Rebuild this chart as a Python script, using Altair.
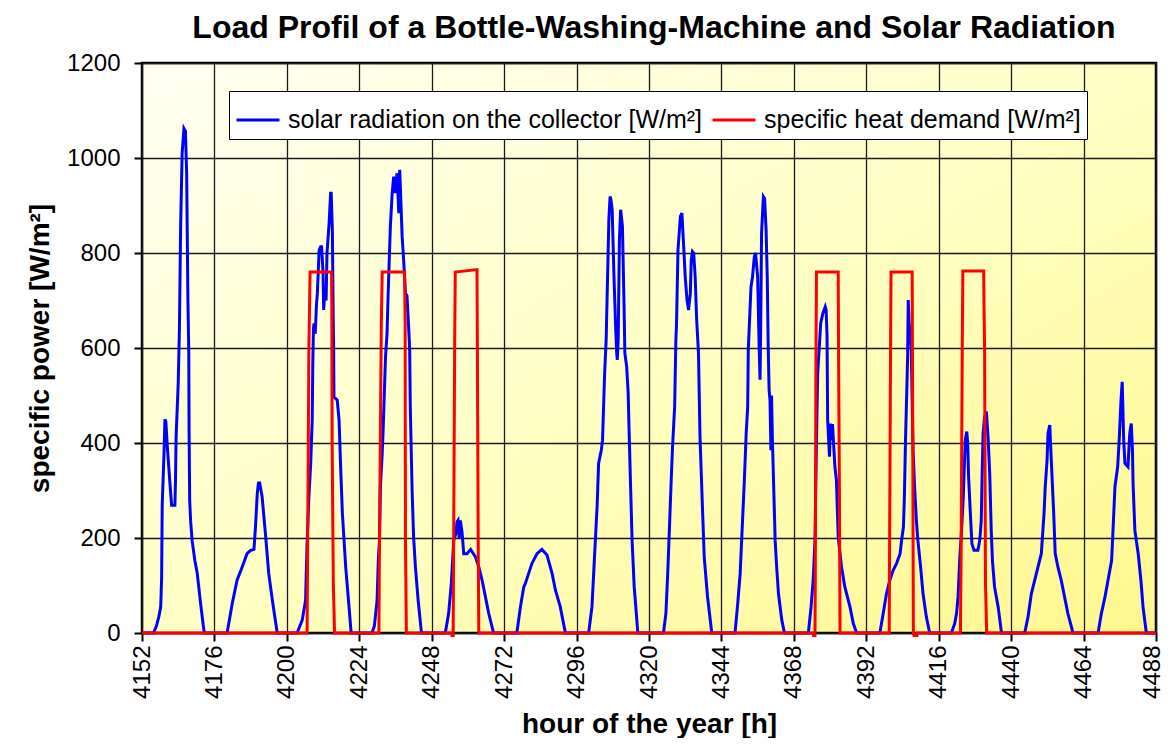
import altair as alt
import pandas as pd

# ---------------- data ----------------
solar_name = "solar radiation on the collector [W/m²]"
heat_name = "specific heat demand [W/m²]"

x_ticks = [4152, 4176, 4200, 4224, 4248, 4272, 4296, 4320, 4344, 4368, 4392, 4416, 4440, 4464, 4488]
y_ticks = [0, 200, 400, 600, 800, 1000, 1200]

solar_hours = [
    4152, 4155.8, 4156.8, 4157.6, 4158.2, 4158.5, 4158.7, 4159.3, 4159.6, 4159.9, 4160.4, 4161.1, 4161.8,
    4162.9, 4163.1, 4163.3, 4164.0, 4164.4, 4164.8, 4165.3, 4165.9, 4166.4, 4166.8, 4167.2, 4167.5, 4167.6,
    4167.8, 4168.1, 4168.6, 4169.5, 4170.3, 4170.8, 4171.4, 4172.5, 4172.8,
    4180.2, 4181.9, 4183.5, 4185.2, 4186.8, 4188.0, 4189.1, 4189.6, 4190.2, 4190.6, 4191.0, 4191.8, 4192.9,
    4194.0, 4195.2, 4196.8,
    4203.4, 4205.1, 4206.2, 4206.7, 4207.3, 4207.9, 4208.4, 4208.6, 4208.8, 4209.0, 4209.4, 4209.8, 4210.1,
    4210.7, 4211.2, 4211.5, 4212.0, 4212.2, 4212.6, 4213.0, 4213.3, 4214.0, 4214.5, 4214.7, 4215.1, 4215.3,
    4215.5, 4215.6, 4216.7, 4217.3, 4217.9, 4218.4, 4219.5, 4220.6, 4221.3,
    4228.2, 4229.0, 4229.9, 4230.3, 4230.7, 4231.0, 4231.6, 4231.9, 4232.3, 4232.7, 4233.2, 4233.5, 4234.0,
    4234.3, 4234.9, 4235.4, 4235.9, 4236.5, 4237.1, 4237.4, 4237.8, 4238.2, 4238.7, 4239.3, 4239.8, 4240.4,
    4240.7, 4240.9, 4241.5, 4242.0, 4242.6, 4243.5, 4244.6,
    4252.5, 4253.6, 4254.5, 4255.3, 4256.0, 4256.4, 4256.7, 4257.1, 4257.5, 4258.1, 4258.6, 4259.7, 4260.9,
    4262.5, 4263.6, 4264.7, 4265.8, 4266.9, 4268.5,
    4276.2, 4277.4, 4278.5, 4279.0, 4280.1, 4281.2, 4282.9, 4284.5, 4286.2, 4287.9, 4289.0, 4290.6, 4292.3,
    4300.0, 4301.1, 4302.0, 4302.8, 4303.3, 4304.2, 4304.6, 4305.3, 4305.8, 4306.1, 4306.7, 4307.1, 4307.4,
    4307.8, 4308.4, 4308.9, 4309.3, 4309.5, 4309.8, 4310.2, 4310.6, 4311.2, 4311.7, 4312.0, 4312.6, 4313.1,
    4313.4, 4313.9, 4314.4, 4315.1, 4315.8, 4316.3,
    4324.8, 4325.6, 4326.2, 4326.7, 4327.4, 4327.8, 4328.5, 4328.9, 4329.1, 4329.6, 4330.4, 4330.9, 4331.5,
    4332.0, 4332.6, 4333.1, 4333.7, 4334.0, 4334.4, 4334.8, 4335.3, 4335.8, 4336.4, 4336.9, 4337.7, 4338.3,
    4339.4, 4340.8,
    4348.5, 4349.4, 4350.2, 4350.7, 4351.6, 4352.2, 4352.7, 4352.9, 4353.8, 4354.3, 4354.9, 4355.3, 4356.0,
    4356.5, 4356.8, 4357.0, 4357.3, 4357.9, 4358.3, 4358.8, 4359.2, 4359.5, 4359.8, 4360.1, 4360.4, 4360.6,
    4360.9, 4361.2, 4361.8, 4362.3, 4362.9, 4364.0, 4364.9,
    4372.8, 4373.7, 4374.4, 4375.0, 4375.5, 4375.9, 4376.3, 4376.9, 4377.6, 4378.4, 4378.7, 4379.0, 4379.2,
    4379.8, 4380.1, 4380.5, 4380.8, 4381.6, 4382.1, 4382.7, 4383.8, 4384.9, 4386.6, 4387.7, 4388.8,
    4396.5, 4397.6, 4398.7, 4399.8, 4400.9, 4402.0, 4403.2, 4403.7, 4404.3, 4404.6, 4405.0, 4405.4, 4405.7,
    4405.9, 4406.2, 4406.6, 4406.9, 4407.5, 4408.0, 4408.6, 4409.1, 4410.0, 4410.8, 4411.9, 4413.0,
    4420.2, 4421.3, 4421.9, 4422.4, 4423.0, 4423.5, 4424.1, 4424.4, 4424.8, 4425.3, 4425.6, 4425.9, 4426.6,
    4427.0, 4427.7, 4429.0, 4429.6, 4430.1, 4430.4, 4430.7, 4431.2, 4431.8, 4432.4, 4432.9, 4433.4, 4433.8,
    4434.5, 4435.7, 4436.8,
    4444.5, 4445.6, 4446.7, 4447.8, 4448.9, 4450.0, 4450.9, 4451.3, 4451.9, 4452.2, 4452.8, 4453.3, 4454.1,
    4454.6, 4455.5, 4456.6, 4457.7, 4458.8, 4460.5,
    4468.8, 4469.9, 4471.1, 4472.1, 4473.3, 4473.8, 4474.4, 4475.3, 4475.8, 4476.4, 4476.8, 4477.3, 4477.7,
    4478.7, 4479.3, 4479.8, 4480.2, 4480.4, 4481.0, 4482.1, 4483.0, 4483.7, 4484.8, 4488,
]
solar_values = [
    0, 0, 15, 35, 55, 115, 270, 379, 450, 445, 392, 329, 269,
    269, 322, 413, 525, 640, 856, 1010, 1062, 1056, 968, 708, 590, 427,
    280, 237, 195, 153, 126, 97, 63, 6, 0,
    0, 62, 111, 139, 167, 174, 176, 223, 294, 316, 316, 287, 209,
    125, 69, 0,
    0, 27, 69, 188, 287, 357, 448, 568, 640, 652, 630, 690, 715,
    806, 813, 813, 758, 680, 720, 700, 800, 863, 926, 926, 842, 694,
    597, 497, 490, 448, 336, 252, 139, 55, 0,
    0, 15, 69, 153, 195, 308, 378, 427, 505, 582, 631, 701, 800,
    856, 926, 961, 926, 968, 884, 975, 905, 835, 785, 715, 710, 638,
    596, 476, 301, 202, 139, 69, 0,
    0, 41, 105, 195, 209, 234, 237, 200, 237, 209, 167, 167, 176,
    160, 139, 111, 76, 41, 0,
    0, 55, 97, 104, 125, 146, 167, 176, 164, 125, 90, 55, 0,
    0, 55, 167, 266, 357, 385, 406, 547, 617, 701, 870, 919, 912,
    891, 750, 652, 589, 575, 620, 828, 891, 856, 701, 589, 561, 505,
    427, 308, 195, 97, 41, 0,
    0, 41, 125, 209, 329, 392, 476, 617, 645, 806, 877, 884, 813,
    750, 701, 680, 715, 785, 803, 800, 750, 659, 589, 413, 266, 160,
    76, 0,
    0, 62, 125, 195, 322, 420, 476, 596, 729, 750, 792, 800, 750,
    600, 533, 640, 842, 919, 915, 849, 743, 603, 512, 490, 385, 500,
    406, 336, 195, 139, 83, 27, 0,
    0, 55, 111, 195, 406, 547, 589, 652, 673, 687, 680, 624, 448,
    371, 441, 406, 440, 350, 322, 202, 139, 97, 55, 20, 0,
    0, 41, 83, 111, 132, 146, 167, 195, 223, 280, 406, 505, 582,
    701, 652, 620, 596, 385, 308, 237, 195, 139, 83, 34, 0,
    0, 20, 41, 76, 160, 209, 280, 336, 406, 424, 400, 329, 237,
    188, 174, 174, 195, 237, 336, 420, 455, 466, 406, 336, 216, 153,
    97, 55, 0,
    0, 34, 83, 111, 139, 167, 252, 308, 364, 420, 438, 364, 252,
    167, 139, 111, 76, 41, 0,
    0, 41, 76, 111, 153, 223, 308, 350, 406, 490, 529, 406, 357,
    350, 420, 441, 385, 315, 216, 167, 111, 55, 0, 0,
]

heat_hours = [
    4152,
    4206.7, 4206.9, 4207.3, 4207.7, 4214.8, 4214.9, 4215.0, 4215.4, 4215.8,
    4230.5, 4230.7, 4231.3, 4231.6, 4239.0, 4239.2, 4239.3, 4239.6,
    4254.5, 4254.7, 4255.1, 4255.2, 4255.6, 4255.8, 4263.0, 4263.1, 4263.4, 4263.6,
    4374.3, 4374.5, 4375.0, 4375.1, 4375.3, 4375.5, 4382.7, 4382.8, 4383.1, 4383.3,
    4399.6, 4399.7, 4400.0, 4400.2, 4407.2, 4407.3, 4407.6, 4407.8, 4408.8, 4408.9,
    4423.2, 4423.4, 4423.8, 4424.0, 4430.9, 4431.0, 4431.2, 4431.5, 4431.9,
    4488,
]
heat_values = [
    0,
    0, 190, 600, 760, 760, 694, 400, 105, 0,
    0, 200, 650, 760, 760, 652, 202, 0,
    0, -5, -5, 100, 600, 760, 765, 648, 202, 0,
    0, -5, -5, 110, 550, 760, 760, 603, 300, 0,
    0, 150, 550, 760, 760, 600, 0, -5, -5, 0,
    0, 150, 600, 762, 762, 694, 600, 105, 0,
    0,
]

df = pd.concat([
    pd.DataFrame({"hour": solar_hours, "power": solar_values, "series": solar_name}),
    pd.DataFrame({"hour": heat_hours, "power": heat_values, "series": heat_name}),
], ignore_index=True)

FONT = "Liberation Sans"
gradient_expr = (
    "{gradient: 'linear', x1: 0, y1: 0, x2: 1, y2: 1, stops: ["
    "{offset: 0, color: '#FFFFF2'}, {offset: 0.5, color: '#FFFFC6'}, {offset: 1, color: '#FFF78C'}]}"
)

chart = alt.Chart(df).mark_line(strokeWidth=3, clip=False).encode(
    x=alt.X(
        "hour:Q",
        scale=alt.Scale(domain=[4152, 4488], nice=False, zero=False),
        axis=alt.Axis(
            values=x_ticks, format="d", labelAngle=-90, labelFontSize=24, labelFont=FONT,
            labelColor="black", tickSize=8, tickWidth=2, tickColor="black", labelPadding=4,
            labelOffset={"condition": {"test": f"datum.value == {x_ticks[-1]}", "value": -4}, "value": 0},
            grid=True, gridColor="#1a1a1a", gridWidth=1.3, domain=False,
            title="hour of the year [h]", titleFont=FONT, titleFontSize=28, titleFontWeight="bold",
            titleColor="black", titlePadding=12, labelFlush=False, labelOverlap=False,
        ),
    ),
    y=alt.Y(
        "power:Q",
        scale=alt.Scale(domain=[0, 1200], nice=False),
        axis=alt.Axis(
            values=y_ticks, format="d", labelFontSize=24, labelFont=FONT, labelColor="black",
            tickSize=8, tickWidth=2, tickColor="black", labelPadding=14,
            grid=True, gridColor="#1a1a1a", gridWidth=1.3, domain=False,
            title="specific power [W/m²]", titleFont=FONT, titleFontSize=28, titleFontWeight="bold",
            titleColor="black", titlePadding=12, labelFlush=False,
        ),
    ),
    color=alt.Color(
        "series:N",
        scale=alt.Scale(domain=[solar_name, heat_name], range=["#0000FF", "#FF0000"]),
        legend=alt.Legend(
            title=None, orient="none", legendX=87, legendY=28, direction="horizontal",
            symbolType="stroke", symbolSize=1849, symbolStrokeWidth=3,
            labelFontSize=25, labelFont=FONT, labelColor="black", labelLimit=1000,
            labelOffset=7, columnPadding=3, padding=6,
            fillColor="white", strokeColor="black",
        ),
    ),
    order=alt.Order("hour:Q"),
).properties(
    width=1014,
    height=570,
    padding={"left": 134, "top": 55, "right": 9, "bottom": 105},
    autosize=alt.AutoSizeParams(type="none"),
    view={"fill": {"expr": gradient_expr}, "stroke": "black", "strokeWidth": 2.5},
    title=alt.TitleParams(
        "Load Profil of a Bottle-Washing-Machine and Solar Radiation",
        font=FONT, fontSize=32, fontWeight="bold", color="black",
        anchor="middle", offset=6, dx=5,
    ),
).configure_view(
    stroke="black",
    strokeWidth=2.5,
).configure(background="white")

chart.save("out.html", embed_options={"renderer": "svg", "actions": False})
